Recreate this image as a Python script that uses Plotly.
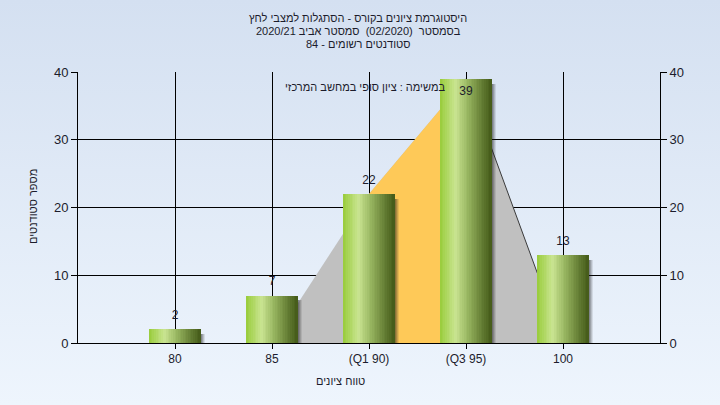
import base64
import plotly.graph_objects as go

# ---- data ----
categories = ["80", "85", "(Q1 90)", "(Q3 95)", "100"]
counts = [2, 7, 22, 39, 13]
curve_x = [1, 2, 3, 4]          # category positions of the distribution curve
curve_vals = [0, 22, 39, 0]
iqr_x = [2, 3]                  # Q1 .. Q3
iqr_vals = [22, 39]
y_ticks = [0, 10, 20, 30, 40]
title_lines = ["היסטוגרמת ציונים בקורס - הסתגלות למצבי לחץ",
               "בסמסטר  (02/2020)  סמסטר אביב 2020/21",
               "סטודנטים רשומים - 84"]
note_text = "במשימה : ציון סופי במחשב המרכזי"
x_title = "טווח ציונים"
y_title = "מספר סטודנטים"

xs = list(range(len(categories)))
W, H = 720, 405
ML, MR, MT, MB = 78, 60, 72, 62
pw, ph = W - ML - MR, H - MT - MB
FONT = "Liberation Sans, Arial, DejaVu Sans, sans-serif"
NARROW = "Liberation Sans Narrow, Liberation Sans, Arial, sans-serif"
TXT = "#1c1c2c"

fig = go.Figure()

# distribution curve area (base axis, below bars)
fig.add_trace(go.Scatter(x=curve_x, y=curve_vals, fill="tozeroy", mode="none",
                         fillcolor="#c0c0c0", hoverinfo="skip", showlegend=False))
# interquartile area
fig.add_trace(go.Scatter(x=iqr_x, y=iqr_vals, fill="tozeroy", mode="none",
                         fillcolor="#fec958", hoverinfo="skip", showlegend=False))
# descending edge line
fig.add_trace(go.Scatter(x=curve_x[2:], y=curve_vals[2:], mode="lines",
                         line=dict(color="#3a3a3a", width=1), hoverinfo="skip", showlegend=False))

BW = 0.525
# soft shadows (overlay axis y2, drawn above the areas)
for dx, op in [(0.05, 0.10), (0.04, 0.14), (0.03, 0.18), (0.02, 0.22)]:
    fig.add_trace(go.Bar(x=xs, y=[v - 0.7 for v in counts], width=[BW] * len(xs), yaxis="y2",
                         offset=-BW / 2 + dx, marker=dict(color=f"rgba(30,30,30,{op})", line=dict(width=0)),
                         hoverinfo="skip", showlegend=False))

# gradient bars built from slices
stops = [(0.0, (152, 204, 58)), (0.3, (202, 229, 146)), (0.55, (150, 180, 95)), (1.0, (68, 90, 24))]


def grad(t):
    for (t0, c0), (t1, c1) in zip(stops[:-1], stops[1:]):
        if t0 <= t <= t1:
            f = (t - t0) / (t1 - t0) if t1 > t0 else 0
            return "rgb(%d,%d,%d)" % tuple(round(a + (b - a) * f) for a, b in zip(c0, c1))
    return "rgb(%d,%d,%d)" % stops[-1][1]


N = 30
sw = BW / N
for i in range(N):
    fig.add_trace(go.Bar(x=xs, y=counts, width=[sw * 1.15] * len(xs), offset=-BW / 2 + i * sw,
                         yaxis="y2", marker=dict(color=grad((i + 0.5) / N), line=dict(width=0)),
                         hoverinfo="skip", showlegend=False))

# value labels
positions = ["top center" if v < 36 else "bottom center" for v in counts]
fig.add_trace(go.Scatter(x=xs, y=counts, mode="markers+text", text=[str(v) for v in counts], yaxis="y2",
                         marker=dict(size=10, opacity=0),
                         textposition=positions, textfont=dict(family=FONT, size=12, color=TXT),
                         hoverinfo="skip", showlegend=False, cliponaxis=False))

svg = ('<svg xmlns="http://www.w3.org/2000/svg" width="10" height="100" preserveAspectRatio="none">'
       '<defs><linearGradient id="g" x1="0" y1="0" x2="0" y2="1">'
       '<stop offset="0" stop-color="#d4e0f1"/><stop offset="1" stop-color="#eef5fd"/>'
       '</linearGradient></defs><rect width="10" height="100" fill="url(#g)"/></svg>')
uri = "data:image/svg+xml;base64," + base64.b64encode(svg.encode()).decode()


def py(pix):
    return 1 + (MT - pix) / ph


annotations = []
for k, line in enumerate(title_lines):
    annotations.append(dict(text=line, xref="paper", yref="paper", x=(358 - ML) / pw, y=py(18 + 12.8 * k),
                            xanchor="center", yanchor="middle", showarrow=False, borderpad=0,
                            font=dict(family=NARROW, size=11, color=TXT)))
annotations.append(dict(text=note_text, x=3 - BW / 2, y=39, xref="x", yref="y", xanchor="right",
                        yanchor="middle", yshift=-8, xshift=6, showarrow=False,
                        font=dict(family=NARROW, size=11, color=TXT)))
annotations.append(dict(text=x_title, xref="paper", yref="paper", x=(340 - ML) / pw, y=py(381),
                        xanchor="center", yanchor="middle", showarrow=False,
                        font=dict(family=NARROW, size=11, color=TXT)))
annotations.append(dict(text=y_title, xref="paper", yref="paper", x=(33 - ML) / pw, y=py(207),
                        xanchor="center", yanchor="middle", showarrow=False, textangle=-90,
                        font=dict(family=NARROW, size=11, color=TXT)))

fig.update_layout(
    width=W, height=H,
    margin=dict(l=ML, r=MR, t=MT, b=MB, autoexpand=False),
    paper_bgcolor="#e4edf8", plot_bgcolor="#b4b4b4",
    barmode="overlay", bargap=0,
    font=dict(family=FONT, size=12, color=TXT),
    images=[dict(source=uri, xref="paper", yref="paper", x=-ML / pw, y=1 + MT / ph,
                 sizex=W / pw, sizey=H / ph, sizing="stretch", layer="below", xanchor="left", yanchor="top")],
    xaxis=dict(range=[-1, 5], tickvals=xs, ticktext=categories, showgrid=True, gridcolor="#000000",
               gridwidth=1, showline=True, linecolor="#000000", ticks="outside", ticklen=5,
               tickcolor="#000000", zeroline=False, tickfont=dict(size=12, color=TXT), automargin=False),
    yaxis=dict(range=[0, 40], tickvals=y_ticks, showgrid=True, gridcolor="#000000",
               gridwidth=1, showline=True, linecolor="#000000", ticks="outside", ticklen=6,
               tickcolor="#000000", zeroline=False, tickfont=dict(size=13, color=TXT), automargin=False),
    yaxis2=dict(range=[0, 40], tickvals=y_ticks, overlaying="y", side="right",
                showgrid=False, showline=True, linecolor="#000000", ticks="outside", ticklen=6,
                tickcolor="#000000", zeroline=False, tickfont=dict(size=13, color=TXT), automargin=False),
    annotations=annotations,
)

fig.write_html("out.html", config={"displayModeBar": False},
               post_script="document.body.style.margin='0';document.body.style.padding='0';")
